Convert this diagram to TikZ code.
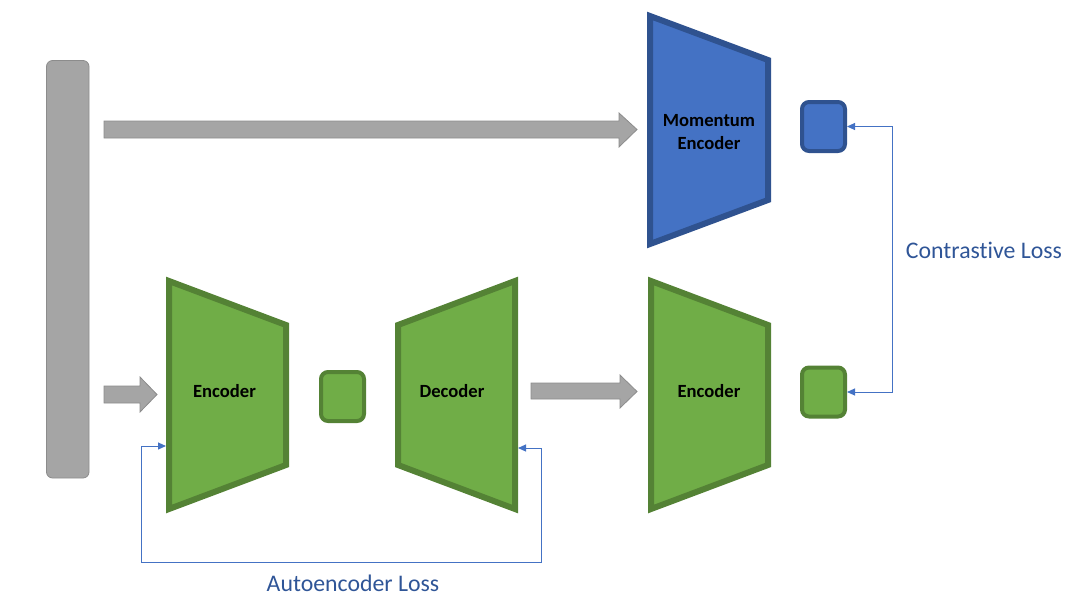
\documentclass[tikz,border=0pt]{standalone}
\usepackage{fontspec}
\setmainfont{Carlito}[Ligatures=NoCommon]
\usetikzlibrary{arrows.meta}
\definecolor{gfill}{HTML}{70AD47}
\definecolor{gline}{HTML}{548235}
\definecolor{bfill}{HTML}{4472C4}
\definecolor{bline}{HTML}{2F528F}
\definecolor{grayfill}{HTML}{A5A5A5}
\definecolor{grayline}{HTML}{8C8C8C}
\definecolor{losscol}{HTML}{2F5597}
\definecolor{lossline}{HTML}{4472C4}
\tikzset{
  gtrap/.style={fill=gfill,draw=gline,line width=6pt,line join=miter},
  btrap/.style={fill=bfill,draw=bline,line width=6pt,line join=miter},
  blockarrow/.style={fill=grayfill,draw=grayline,line width=0.8pt},
  gsquare/.style={fill=gfill,draw=gline,line width=4pt,rounded corners=7pt,minimum width=43pt,minimum height=49pt,inner sep=0pt},
  bsquare/.style={fill=bfill,draw=bline,line width=4pt,rounded corners=7pt,minimum width=43pt,minimum height=49pt,inner sep=0pt},
  blocklabel/.style={font=\fontsize{18.6pt}{23pt}\selectfont\bfseries,text=black,align=center,inner sep=0pt},
  losslabel/.style={font=\fontsize{23.8pt}{26pt}\selectfont,text=losscol,inner sep=0pt},
  lossarrow/.style={draw=lossline,line width=1pt,{Triangle[length=8pt,width=7pt]}-{Triangle[length=8pt,width=7pt]}},
}
\begin{document}
\begin{tikzpicture}[x=1pt,y=-1pt]
\useasboundingbox (0,0) rectangle (1068,598);
% input bar
\draw[fill=grayfill,draw=grayline,line width=0.8pt,rounded corners=6pt] (46.5,60.5) rectangle (89,478);
% block arrows
\draw[blockarrow] (104,121) -- (619,121) -- (619,113) -- (637,129.5) -- (619,147) -- (619,138) -- (104,138) -- cycle;
\draw[blockarrow] (104,386) -- (140,386) -- (140,377) -- (157,394.5) -- (140,412) -- (140,403) -- (104,403) -- cycle;
\draw[blockarrow] (531,383) -- (620,383) -- (620,375) -- (637,391.5) -- (620,408) -- (620,399) -- (531,399) -- cycle;
% trapezoids
\draw[btrap] (650,16) -- (768,60) -- (768,200) -- (650,244) -- cycle;
\draw[gtrap] (169,281) -- (286,325) -- (286,465) -- (169,509) -- cycle;
\draw[gtrap] (398,325) -- (515,281) -- (515,509) -- (398,465) -- cycle;
\draw[gtrap] (651,281) -- (768,325) -- (768,465) -- (651,509) -- cycle;
% labels
\node[blocklabel] (mom) at (709,132.5) {Momentum\\Encoder};
\node[blocklabel] (enc1) at (224.5,391) {Encoder};
\node[blocklabel] (dec) at (452,391) {Decoder};
\node[blocklabel] (enc2) at (709,391) {Encoder};
% latent squares
\node[bsquare] (bsq) at (823.5,126.5) {};
\node[gsquare] (gsq2) at (823.5,392) {};
\node[gsquare] (gsq1) at (342.5,396.5) {};
% contrastive loss
\draw[lossarrow] (gsq2.east) -- (892,392) |- (bsq.east);
\node[losslabel] (closs) at (984,250) {Contrastive Loss};
% autoencoder loss
\coordinate (decR) at (518,448);
\coordinate (encL) at (166,446);
\coordinate (aeB) at (141,562);
\draw[lossarrow] (decR) -- (541,448) |- (aeB) |- (encL);
\node[losslabel] (aloss) at (353,583) {Autoencoder Loss};
\end{tikzpicture}
\end{document}
